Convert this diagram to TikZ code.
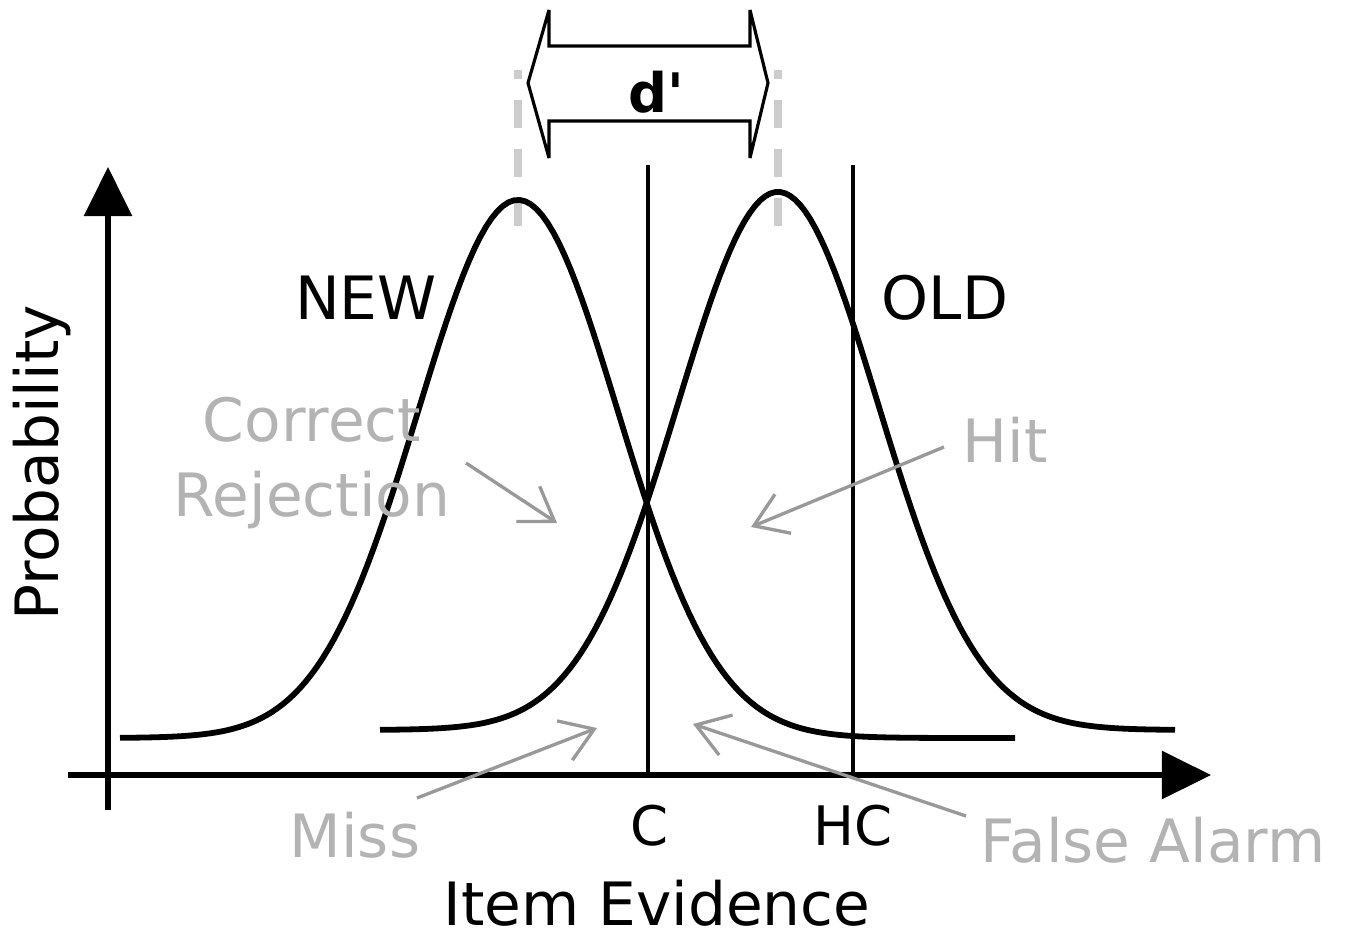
\documentclass[tikz,border=0pt]{standalone}
\usepackage{fontspec}
\setmainfont{DejaVu Sans}
\usetikzlibrary{arrows.meta,positioning}
\definecolor{labelgray}{HTML}{B3B3B3}
\definecolor{pointgray}{HTML}{999999}
\definecolor{dashgray}{HTML}{CCCCCC}

\begin{document}
\begin{tikzpicture}[
    x=0.02cm, y=-0.02cm,
    font=\fontsize{34}{40}\selectfont,
    axis/.style={line width=2.9pt, -{Triangle[length=28pt, width=27pt]}},
    curve/.style={line width=3.3pt, line join=round},
    crit/.style={line width=2.8pt},
    mean/.style={line width=4pt, dashgray, dash pattern=on 16pt off 12pt, dash phase=11pt},
    outcome/.style={labelgray, inner sep=0pt},
    pointer/.style={pointgray, line width=1.9pt, -{Straight Barb[length=18pt, width=24pt, line width=1.9pt]}}
]
\useasboundingbox (0,0) rectangle (1348,937);

% axes
\coordinate (xstart) at (68,775);
\coordinate (xend) at (1211,775);
\coordinate (ystart) at (108,810);
\coordinate (yend) at (108,167);
\draw[axis] (xstart) -- (xend);
\draw[axis] (ystart) -- (yend);

\node[rotate=90] (prob) at (42,463) {Probability};
\node (evid) at (657,903) {Item Evidence};

% means of the two distributions
\draw[mean] (518,70) -- (518,232);
\draw[mean] (778,70) -- (778,232);

% distributions
\draw[curve] plot[domain=120:1015, samples=160] (\x, {738-538*exp(-0.5*((\x-518)/100)^2)});
\draw[curve] plot[domain=380:1175, samples=160] (\x, {730-538*exp(-0.5*((\x-778)/100)^2)});

\node (new) at (366,298) {NEW};
\node (old) at (945,298) {OLD};

% criteria
\coordinate (ctop) at (648,165);
\coordinate (cbot) at (648,775);
\coordinate (hctop) at (853,165);
\coordinate (hcbot) at (853,775);
\draw[crit] (ctop) -- (cbot);
\draw[crit] (hctop) -- (hcbot);
\node[font=\fontsize{31}{36}\selectfont] (c) at (650,826) {C};
\node[font=\fontsize{31}{36}\selectfont] (hc) at (853,826) {HC};

% d' block arrow
\draw[line width=1.8pt, line join=miter, miter limit=2.5] (528,83) -- (549,10) -- (549,46) -- (750,46) -- (750,10)
  -- (768,83) -- (750,158) -- (750,121) -- (549,121) -- (549,158) -- cycle;
\node[font=\fontsize{31}{36}\selectfont\bfseries] (dprime) at (656,92) {d\textquotesingle};

% response outcomes
\node[outcome] (cr1) at (312,420) {Correct};
\node[outcome] (cr2) at (312,500) {Rejection};
\node[outcome] (hit) at (1005,440) {Hit};
\node[outcome] (miss) at (355,835) {Miss};
\node[outcome] (fa) at (1153,840) {False Alarm};

\coordinate (crfrom) at (466,463);
\coordinate (crto) at (557,523);
\coordinate (hitfrom) at (944,447);
\coordinate (hitto) at (751,527);
\coordinate (missfrom) at (417,798);
\coordinate (missto) at (597,728);
\coordinate (fafrom) at (966,816);
\coordinate (fato) at (693,724);
\draw[pointer] (crfrom) -- (crto);
\draw[pointer] (hitfrom) -- (hitto);
\draw[pointer] (missfrom) -- (missto);
\draw[pointer] (fafrom) -- (fato);

\end{tikzpicture}
\end{document}
